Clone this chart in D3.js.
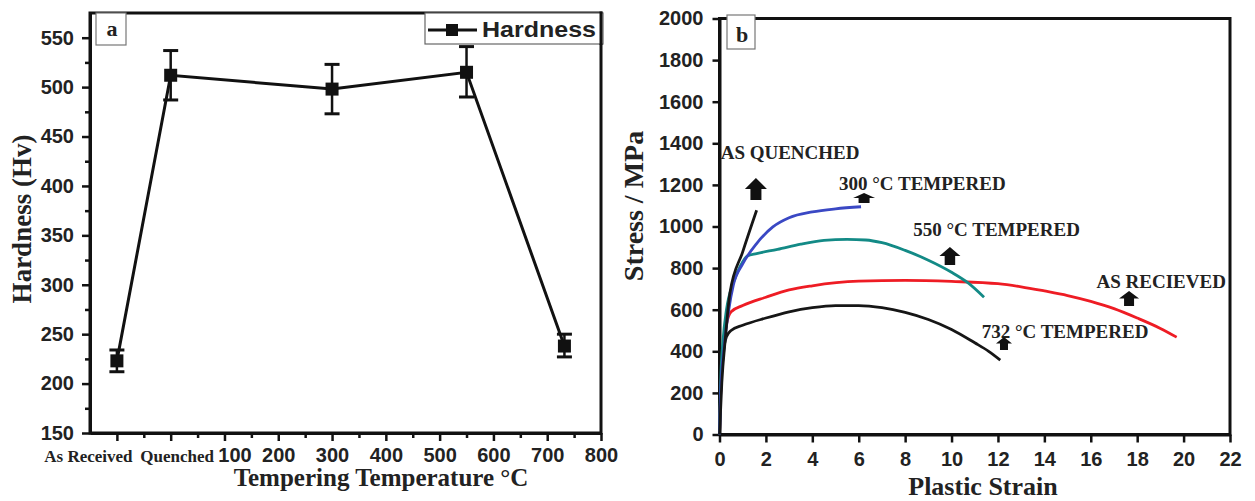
<!DOCTYPE html>
<html><head><meta charset="utf-8">
<script src="https://cdn.jsdelivr.net/npm/d3@7"></script>
<style>body{margin:0;background:#fff;} svg{display:block}</style>
</head><body>
<svg id="chart" width="1255" height="501"></svg>
<script>
// ---------- Panel a data ----------
const hardnessCategories = ["As Received", "Quenched", "300 °C", "550 °C", "732 °C"];
const hardnessX = [-100, 0, 300, 550, 732];
const hardness = [223, 512, 498, 515, 238];
const hardnessLow = [212, 487, 473, 490, 227];
const hardnessHigh = [234, 537, 523, 541, 250];
const tempTicks = [-100, 0, 100, 200, 300, 400, 500, 600, 700, 800];
const tempTickLabels = ["As Received", "Quenched", "100", "200", "300", "400", "500", "600", "700", "800"];
const tempMinorTicks = [-50, 50, 150, 250, 350, 450, 550, 650, 750];
const hardnessTicks = [150, 200, 250, 300, 350, 400, 450, 500, 550];
const hardnessMinorTicks = [175, 225, 275, 325, 375, 425, 475, 525];

// ---------- Panel b data ----------
const quenchedStrain = [0, 0.1, 0.25, 0.45, 1.0, 1.6];
const quenchedStress = [0, 250, 460, 680, 878, 1078];
const t300Strain = [0, 0.05, 0.2, 0.4, 0.6, 1.0, 1.6, 2.3, 3.0, 4.0, 5.0, 6.1];
const t300Stress = [0, 200, 420, 600, 720, 820, 918, 998, 1042, 1070, 1085, 1095];
const t550Strain = [0, 0.05, 0.15, 0.3, 0.6, 0.9, 1.2, 1.6, 2.5, 3.5, 4.5, 5.5, 6.3, 7.0, 8.0, 9.0, 10.0, 10.7, 11.4];
const t550Stress = [0, 250, 450, 600, 730, 810, 858, 870, 890, 915, 933, 938, 935, 922, 885, 838, 780, 730, 660];
const receivedStrain = [0, 0.05, 0.15, 0.3, 0.5, 1.0, 2.0, 3.0, 4.0, 6.0, 8.0, 10.0, 12.0, 13.0, 14.0, 15.0, 16.0, 17.0, 18.0, 19.0, 19.7];
const receivedStress = [0, 200, 400, 530, 590, 620, 660, 695, 715, 737, 741, 736, 725, 710, 690, 668, 640, 605, 560, 510, 468];
const t732Strain = [0, 0.05, 0.15, 0.3, 0.5, 1.0, 2.0, 3.0, 4.0, 5.0, 6.0, 7.0, 8.0, 9.0, 10.0, 11.0, 11.6, 12.1];
const t732Stress = [0, 200, 380, 470, 500, 525, 560, 590, 610, 620, 620, 610, 587, 553, 505, 441, 400, 358];
const strainTicks = [0, 2, 4, 6, 8, 10, 12, 14, 16, 18, 20, 22];
const stressTicks = [0, 200, 400, 600, 800, 1000, 1200, 1400, 1600, 1800, 2000];
const seriesNames = ["AS QUENCHED", "300 °C TEMPERED", "550 °C TEMPERED", "AS RECIEVED", "732 °C TEMPERED"];

const svg = d3.select("#chart");
const SANS = "'Liberation Sans', Arial, sans-serif";
const SERIF = "'Liberation Serif', 'Times New Roman', serif";

function styleAxis(g, fontSize) {
  g.select(".domain").attr("stroke", "#111").attr("stroke-width", 3);
  g.selectAll(".tick line").attr("stroke", "#111").attr("stroke-width", 2.5);
  g.selectAll(".tick text").attr("font-family", SANS).attr("font-weight", "bold")
    .attr("font-size", fontSize).attr("fill", "#222");
}

// ================= Panel a =================
const xA = d3.scaleLinear().domain([-150, 800]).range([90, 601]);
const yA = d3.scaleLinear().domain([150, 575]).range([433, 13]);

const ga = svg.append("g");
ga.append("rect").attr("x", xA(-150)).attr("y", yA(575)).attr("width", xA(800) - xA(-150))
  .attr("height", yA(150) - yA(575)).attr("fill", "none").attr("stroke", "#111").attr("stroke-width", 3);

ga.append("g").attr("transform", `translate(0,${yA(150)})`)
  .call(d3.axisBottom(xA).tickValues(tempMinorTicks).tickSize(5).tickSizeOuter(0).tickFormat(""))
  .call(g => styleAxis(g, 20));
ga.append("g").attr("transform", `translate(${xA(-150)},0)`)
  .call(d3.axisLeft(yA).tickValues(hardnessMinorTicks).tickSize(5).tickSizeOuter(0).tickFormat(""))
  .call(g => styleAxis(g, 20));

const axAx = ga.append("g").attr("transform", `translate(0,${yA(150)})`)
  .call(d3.axisBottom(xA).tickValues(tempTicks).tickSize(8).tickSizeOuter(0).tickPadding(9)
    .tickFormat((d, i) => tempTickLabels[i]))
  .call(g => styleAxis(g, 20));
axAx.selectAll(".tick text").attr("dy", null).attr("y", 29);
axAx.selectAll(".tick text").filter((d, i) => i < 2)
  .attr("font-family", SERIF).attr("font-size", 17).attr("fill", "#222");
axAx.selectAll(".tick text").filter((d, i) => i === 0).attr("dx", -29);
axAx.selectAll(".tick text").filter((d, i) => i === 1).attr("dx", 6);
axAx.selectAll(".tick text").filter((d, i) => i === 2).attr("dx", 10);

ga.append("g").attr("transform", `translate(${xA(-150)},0)`)
  .call(d3.axisLeft(yA).tickValues(hardnessTicks).tickSize(8).tickSizeOuter(0).tickPadding(8))
  .call(g => styleAxis(g, 20));

ga.append("text").attr("x", 381).attr("y", 486).attr("text-anchor", "middle")
  .attr("font-family", SERIF).attr("font-weight", "bold").attr("font-size", 25).attr("fill", "#222")
  .text("Tempering Temperature °C");
ga.append("text").attr("transform", "translate(31,219) rotate(-90)").attr("text-anchor", "middle")
  .attr("font-family", SERIF).attr("font-weight", "bold").attr("font-size", 27).attr("fill", "#222")
  .text("Hardness (Hv)");

const pts = hardnessX.map((x, i) => ({x, y: hardness[i], lo: hardnessLow[i], hi: hardnessHigh[i], c: hardnessCategories[i]}));
ga.append("path").datum(pts)
  .attr("d", d3.line().x(d => xA(d.x)).y(d => yA(d.y)))
  .attr("fill", "none").attr("stroke", "#111").attr("stroke-width", 3);
const eb = ga.selectAll(".eb").data(pts).enter().append("g");
eb.append("line").attr("x1", d => xA(d.x)).attr("x2", d => xA(d.x))
  .attr("y1", d => yA(d.lo)).attr("y2", d => yA(d.hi)).attr("stroke", "#111").attr("stroke-width", 2.5);
eb.append("line").attr("x1", d => xA(d.x) - 7.5).attr("x2", d => xA(d.x) + 7.5)
  .attr("y1", d => yA(d.hi)).attr("y2", d => yA(d.hi)).attr("stroke", "#111").attr("stroke-width", 3);
eb.append("line").attr("x1", d => xA(d.x) - 7.5).attr("x2", d => xA(d.x) + 7.5)
  .attr("y1", d => yA(d.lo)).attr("y2", d => yA(d.lo)).attr("stroke", "#111").attr("stroke-width", 3);
eb.append("rect").attr("x", d => xA(d.x) - 6.5).attr("y", d => yA(d.y) - 6.5)
  .attr("width", 13).attr("height", 13).attr("fill", "#111");

ga.append("rect").attr("x", 96).attr("y", 13).attr("width", 30).attr("height", 32)
  .attr("fill", "#fff").attr("stroke", "#777").attr("stroke-width", 1.2);
ga.append("text").attr("x", 112).attr("y", 36).attr("text-anchor", "middle")
  .attr("font-family", SERIF).attr("font-weight", "bold").attr("font-size", 22).attr("fill", "#222").text("a");

ga.append("rect").attr("x", 425).attr("y", 13).attr("width", 178).attr("height", 31)
  .attr("fill", "#fff").attr("stroke", "#666").attr("stroke-width", 1.2);
ga.append("line").attr("x1", 428).attr("x2", 477).attr("y1", 30).attr("y2", 30)
  .attr("stroke", "#111").attr("stroke-width", 3);
ga.append("rect").attr("x", 452 - 6).attr("y", 30 - 6).attr("width", 12).attr("height", 12).attr("fill", "#111");
ga.append("text").attr("x", 482).attr("y", 37).attr("font-family", SANS).attr("font-weight", "bold")
  .attr("font-size", 22).attr("textLength", 114).attr("lengthAdjust", "spacingAndGlyphs")
  .attr("fill", "#222").text("Hardness");
ga.append("line").attr("x1", xA(800)).attr("x2", xA(800)).attr("y1", yA(575) - 1.5).attr("y2", 45)
  .attr("stroke", "#111").attr("stroke-width", 3);

// ================= Panel b =================
const xB = d3.scaleLinear().domain([0, 22]).range([719.5, 1230]);
const yB = d3.scaleLinear().domain([0, 2000]).range([434.5, 18.5]);
const gb = svg.append("g");
gb.append("rect").attr("x", xB(0)).attr("y", yB(2000)).attr("width", xB(22) - xB(0))
  .attr("height", yB(0) - yB(2000)).attr("fill", "none").attr("stroke", "#111").attr("stroke-width", 3);

const bxAx = gb.append("g").attr("transform", `translate(0,${yB(0)})`)
  .call(d3.axisBottom(xB).tickValues(strainTicks).tickSize(8).tickSizeOuter(0).tickFormat(d3.format("d")))
  .call(g => styleAxis(g, 20));
bxAx.selectAll(".tick text").attr("dy", null).attr("y", 31);
gb.append("g").attr("transform", `translate(${xB(0)},0)`)
  .call(d3.axisLeft(yB).tickValues(stressTicks).tickSize(7).tickSizeOuter(0).tickPadding(9)
    .tickFormat(d3.format("d")))
  .call(g => styleAxis(g, 20));

gb.append("text").attr("x", 983).attr("y", 495).attr("text-anchor", "middle")
  .attr("font-family", SERIF).attr("font-weight", "bold").attr("font-size", 26).attr("fill", "#222")
  .text("Plastic Strain");
gb.append("text").attr("transform", "translate(643,206) rotate(-90)").attr("text-anchor", "middle")
  .attr("font-family", SERIF).attr("font-weight", "bold").attr("font-size", 28).attr("fill", "#222")
  .text("Stress / MPa");

const curves = [
  {name: seriesNames[3], xs: receivedStrain, ys: receivedStress, color: "#ee1c24"},
  {name: seriesNames[4], xs: t732Strain, ys: t732Stress, color: "#161616"},
  {name: seriesNames[2], xs: t550Strain, ys: t550Stress, color: "#138a86"},
  {name: seriesNames[1], xs: t300Strain, ys: t300Stress, color: "#3a48c4"},
  {name: seriesNames[0], xs: quenchedStrain, ys: quenchedStress, color: "#161616"}
];
const lineB = d3.line().x(d => xB(d[0])).y(d => yB(d[1])).curve(d3.curveMonotoneX);
curves.forEach(c => {
  gb.append("path").datum(c.xs.map((x, i) => [x, c.ys[i]]))
    .attr("d", lineB).attr("fill", "none").attr("stroke", c.color).attr("stroke-width", 2.8)
    .attr("stroke-linejoin", "round");
});

const labels = [
  {t: seriesNames[0], x: 0.05, y: 1325},
  {t: seriesNames[1], x: 5.15, y: 1175},
  {t: seriesNames[2], x: 8.35, y: 952},
  {t: seriesNames[3], x: 16.25, y: 704},
  {t: seriesNames[4], x: 11.3, y: 464}
];
labels.forEach(l => {
  gb.append("text").attr("x", xB(l.x)).attr("y", yB(l.y)).attr("font-family", SERIF)
    .attr("font-weight", "bold").attr("font-size", 19).attr("fill", "#222").text(l.t);
});
const arrows = [
  {x: 1.57, top: 1233, bot: 1127, w: 22},
  {x: 6.23, top: 1161, bot: 1113, w: 22},
  {x: 9.93, top: 901, bot: 815, w: 21},
  {x: 17.65, top: 690, bot: 618, w: 20},
  {x: 12.26, top: 469, bot: 406, w: 16}
];
arrows.forEach(a => {
  const cx = xB(a.x), ty = yB(a.top), by = yB(a.bot), h = by - ty;
  const hh = h * 0.5, sw = a.w * 0.5;
  const p = [[cx, ty], [cx + a.w / 2, ty + hh], [cx + sw / 2, ty + hh], [cx + sw / 2, by],
             [cx - sw / 2, by], [cx - sw / 2, ty + hh], [cx - a.w / 2, ty + hh]];
  gb.append("path").attr("d", "M" + p.map(q => q.join(",")).join("L") + "Z").attr("fill", "#111");
});

gb.append("rect").attr("x", 727).attr("y", 15).attr("width", 28).attr("height", 34)
  .attr("fill", "#fff").attr("stroke", "#777").attr("stroke-width", 1.2);
gb.append("text").attr("x", 742).attr("y", 42).attr("text-anchor", "middle")
  .attr("font-family", SERIF).attr("font-weight", "bold").attr("font-size", 22).attr("fill", "#222").text("b");
</script>
</body></html>
